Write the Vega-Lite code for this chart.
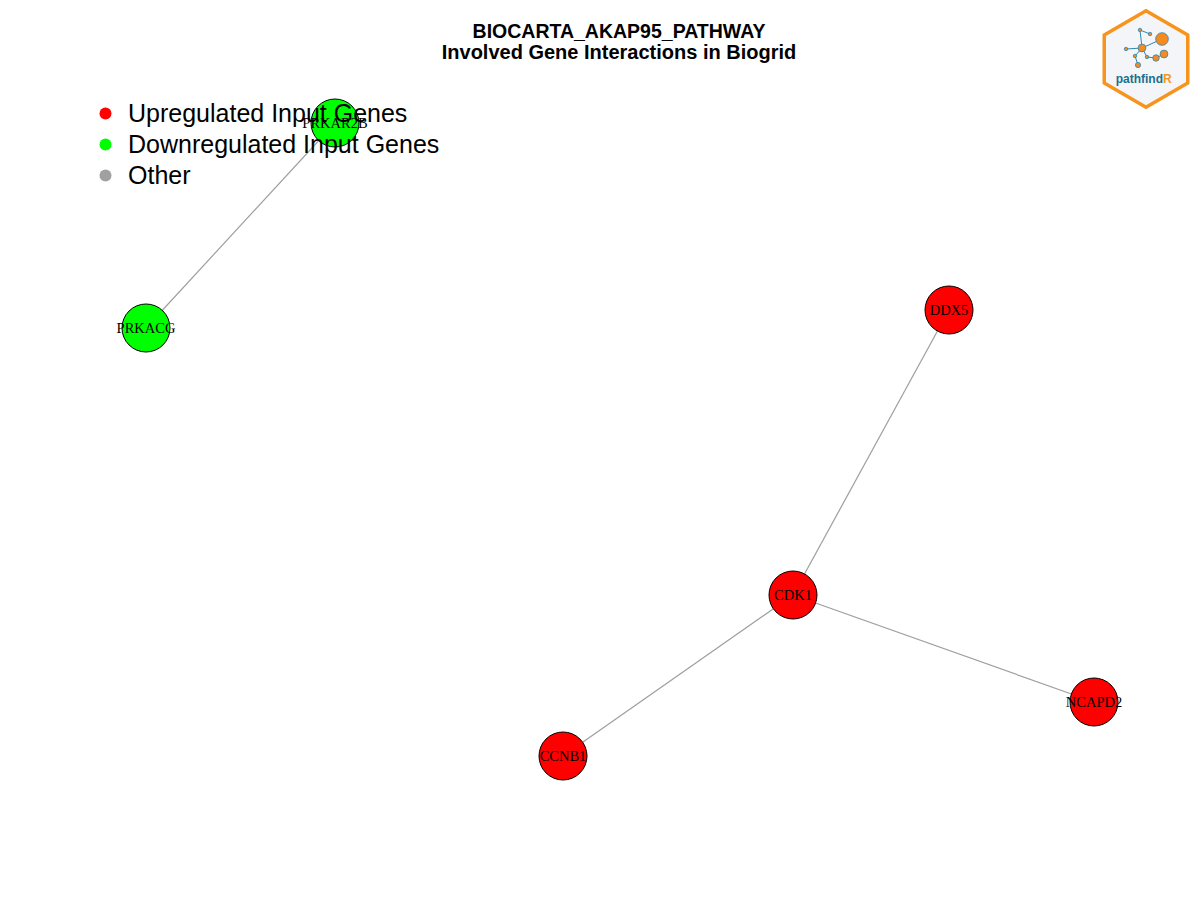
{
  "$schema": "https://vega.github.io/schema/vega-lite/v6.json",
  "description": "pathfindR term-gene graph: BIOCARTA_AKAP95_PATHWAY genes interacting in Biogrid.",
  "width": 1200,
  "height": 900,
  "autosize": {"type": "none"},
  "padding": 0,
  "background": "white",
  "title": {
    "text": "BIOCARTA_AKAP95_PATHWAY",
    "subtitle": "Involved Gene Interactions in Biogrid",
    "anchor": "middle",
    "frame": "group",
    "offset": -64,
    "dx": 19,
    "font": "Liberation Sans",
    "fontSize": 19.5,
    "fontWeight": "bold",
    "color": "black",
    "subtitleFont": "Liberation Sans",
    "subtitleFontSize": 20,
    "subtitleFontWeight": "bold",
    "subtitleColor": "black",
    "subtitlePadding": 1
  },
  "datasets": {
    "nodes": [
      {"gene": "PRKAR2B", "x": 335, "y": 123, "status": "Downregulated Input Genes"},
      {"gene": "PRKACG", "x": 146, "y": 328, "status": "Downregulated Input Genes"},
      {"gene": "DDX5", "x": 949, "y": 310, "status": "Upregulated Input Genes"},
      {"gene": "CDK1", "x": 793, "y": 595, "status": "Upregulated Input Genes"},
      {"gene": "NCAPD2", "x": 1094, "y": 702, "status": "Upregulated Input Genes"},
      {"gene": "CCNB1", "x": 563, "y": 756, "status": "Upregulated Input Genes"}
    ],
    "edges": [
      {"from": "PRKAR2B", "to": "PRKACG"},
      {"from": "DDX5", "to": "CDK1"},
      {"from": "CDK1", "to": "NCAPD2"},
      {"from": "CDK1", "to": "CCNB1"}
    ],
    "logo_badge": [{"x": 1146, "y": 59}],
    "logo_nodes": [
      {"id": "a", "x": 1162, "y": 39, "w": 4},
      {"id": "b", "x": 1142, "y": 48, "w": 2},
      {"id": "c", "x": 1140, "y": 30, "w": 1},
      {"id": "d", "x": 1150, "y": 34, "w": 1},
      {"id": "e", "x": 1126, "y": 49, "w": 1},
      {"id": "f", "x": 1135, "y": 56, "w": 1},
      {"id": "g", "x": 1164, "y": 54, "w": 2},
      {"id": "h", "x": 1156, "y": 58, "w": 1.6},
      {"id": "i", "x": 1138, "y": 65, "w": 1.3},
      {"id": "j", "x": 1147, "y": 57, "w": 1}
    ],
    "logo_edges": [
      {"from": "b", "to": "a"},
      {"from": "b", "to": "c"},
      {"from": "c", "to": "d"},
      {"from": "b", "to": "e"},
      {"from": "b", "to": "f"},
      {"from": "f", "to": "i"},
      {"from": "b", "to": "j"},
      {"from": "j", "to": "h"},
      {"from": "h", "to": "g"}
    ],
    "logo_text": [
      {"piece": "pathfind", "x": 1163, "y": 79},
      {"piece": "R", "x": 1163, "y": 79}
    ]
  },
  "layer": [
    {
      "data": {"name": "edges"},
      "transform": [
        {"lookup": "from", "from": {"data": {"name": "nodes"}, "key": "gene", "fields": ["x", "y"]}, "as": ["fx", "fy"]},
        {"lookup": "to", "from": {"data": {"name": "nodes"}, "key": "gene", "fields": ["x", "y"]}, "as": ["tx", "ty"]}
      ],
      "mark": {"type": "rule", "color": "#9e9e9e", "strokeWidth": 1.2},
      "encoding": {
        "x": {"field": "fx", "type": "quantitative", "scale": {"domain": [0, 1200], "nice": false, "zero": false}, "axis": null},
        "y": {"field": "fy", "type": "quantitative", "scale": {"domain": [0, 900], "nice": false, "zero": false, "reverse": true}, "axis": null},
        "x2": {"field": "tx"},
        "y2": {"field": "ty"}
      }
    },
    {
      "data": {"name": "nodes"},
      "mark": {"type": "point", "shape": "circle", "filled": true, "opacity": 1, "size": 2304, "stroke": "black", "strokeWidth": 1},
      "encoding": {
        "x": {"field": "x", "type": "quantitative", "scale": {"domain": [0, 1200], "nice": false, "zero": false}, "axis": null},
        "y": {"field": "y", "type": "quantitative", "scale": {"domain": [0, 900], "nice": false, "zero": false, "reverse": true}, "axis": null},
        "color": {
          "field": "status",
          "type": "nominal",
          "scale": {
            "domain": ["Upregulated Input Genes", "Downregulated Input Genes", "Other"],
            "range": ["#ff0000", "#00ff00", "#a0a0a0"]
          },
          "legend": {
            "title": null,
            "orient": "none",
            "legendX": 93,
            "legendY": 101,
            "padding": 0,
            "symbolType": "circle",
            "symbolSize": 144,
            "symbolStrokeWidth": 0,
            "symbolOpacity": 1,
            "labelFont": "Liberation Sans",
            "labelFontSize": 25,
            "labelColor": "black",
            "labelOffset": 10,
            "labelLimit": 600,
            "rowPadding": 5
          }
        }
      }
    },
    {
      "data": {"name": "nodes"},
      "mark": {"type": "text", "font": "Liberation Serif", "fontSize": 14.5, "color": "black", "align": "center", "baseline": "middle", "dy": 1},
      "encoding": {
        "x": {"field": "x", "type": "quantitative", "scale": {"domain": [0, 1200], "nice": false, "zero": false}, "axis": null},
        "y": {"field": "y", "type": "quantitative", "scale": {"domain": [0, 900], "nice": false, "zero": false, "reverse": true}, "axis": null},
        "text": {"field": "gene"}
      }
    },
    {
      "data": {"name": "logo_badge"},
      "mark": {"type": "point", "shape": "M0,-1L0.866,-0.5L0.866,0.5L0,1L-0.866,0.5L-0.866,-0.5Z", "size": 9300, "filled": true, "fill": "#f3f5f8", "stroke": "#f7941d", "strokeWidth": 3.5, "opacity": 1},
      "encoding": {
        "x": {"field": "x", "type": "quantitative", "scale": {"domain": [0, 1200], "nice": false, "zero": false}, "axis": null},
        "y": {"field": "y", "type": "quantitative", "scale": {"domain": [0, 900], "nice": false, "zero": false, "reverse": true}, "axis": null}
      }
    },
    {
      "data": {"name": "logo_edges"},
      "transform": [
        {"lookup": "from", "from": {"data": {"name": "logo_nodes"}, "key": "id", "fields": ["x", "y"]}, "as": ["fx", "fy"]},
        {"lookup": "to", "from": {"data": {"name": "logo_nodes"}, "key": "id", "fields": ["x", "y"]}, "as": ["tx", "ty"]}
      ],
      "mark": {"type": "rule", "color": "#2f86b5", "strokeWidth": 1},
      "encoding": {
        "x": {"field": "fx", "type": "quantitative", "scale": {"domain": [0, 1200], "nice": false, "zero": false}, "axis": null},
        "y": {"field": "fy", "type": "quantitative", "scale": {"domain": [0, 900], "nice": false, "zero": false, "reverse": true}, "axis": null},
        "x2": {"field": "tx"},
        "y2": {"field": "ty"}
      }
    },
    {
      "data": {"name": "logo_nodes"},
      "mark": {"type": "point", "shape": "circle", "filled": true, "fill": "#f58a1f", "stroke": "#2f86b5", "strokeWidth": 0.8, "opacity": 1},
      "encoding": {
        "x": {"field": "x", "type": "quantitative", "scale": {"domain": [0, 1200], "nice": false, "zero": false}, "axis": null},
        "y": {"field": "y", "type": "quantitative", "scale": {"domain": [0, 900], "nice": false, "zero": false, "reverse": true}, "axis": null},
        "size": {"field": "w", "type": "quantitative", "scale": {"domain": [1, 4], "range": [12, 160]}, "legend": null}
      }
    },
    {
      "data": {"name": "logo_text"},
      "transform": [{"filter": "datum.piece === 'pathfind'"}],
      "mark": {"type": "text", "font": "Liberation Sans", "fontSize": 12, "fontWeight": "bold", "color": "#1b6f8f", "align": "right", "baseline": "middle"},
      "encoding": {
        "x": {"field": "x", "type": "quantitative", "scale": {"domain": [0, 1200], "nice": false, "zero": false}, "axis": null},
        "y": {"field": "y", "type": "quantitative", "scale": {"domain": [0, 900], "nice": false, "zero": false, "reverse": true}, "axis": null},
        "text": {"field": "piece"}
      }
    },
    {
      "data": {"name": "logo_text"},
      "transform": [{"filter": "datum.piece === 'R'"}],
      "mark": {"type": "text", "font": "Liberation Sans", "fontSize": 12, "fontWeight": "bold", "color": "#f7941d", "align": "left", "baseline": "middle"},
      "encoding": {
        "x": {"field": "x", "type": "quantitative", "scale": {"domain": [0, 1200], "nice": false, "zero": false}, "axis": null},
        "y": {"field": "y", "type": "quantitative", "scale": {"domain": [0, 900], "nice": false, "zero": false, "reverse": true}, "axis": null},
        "text": {"field": "piece"}
      }
    }
  ],
  "config": {"view": {"stroke": null}}
}
